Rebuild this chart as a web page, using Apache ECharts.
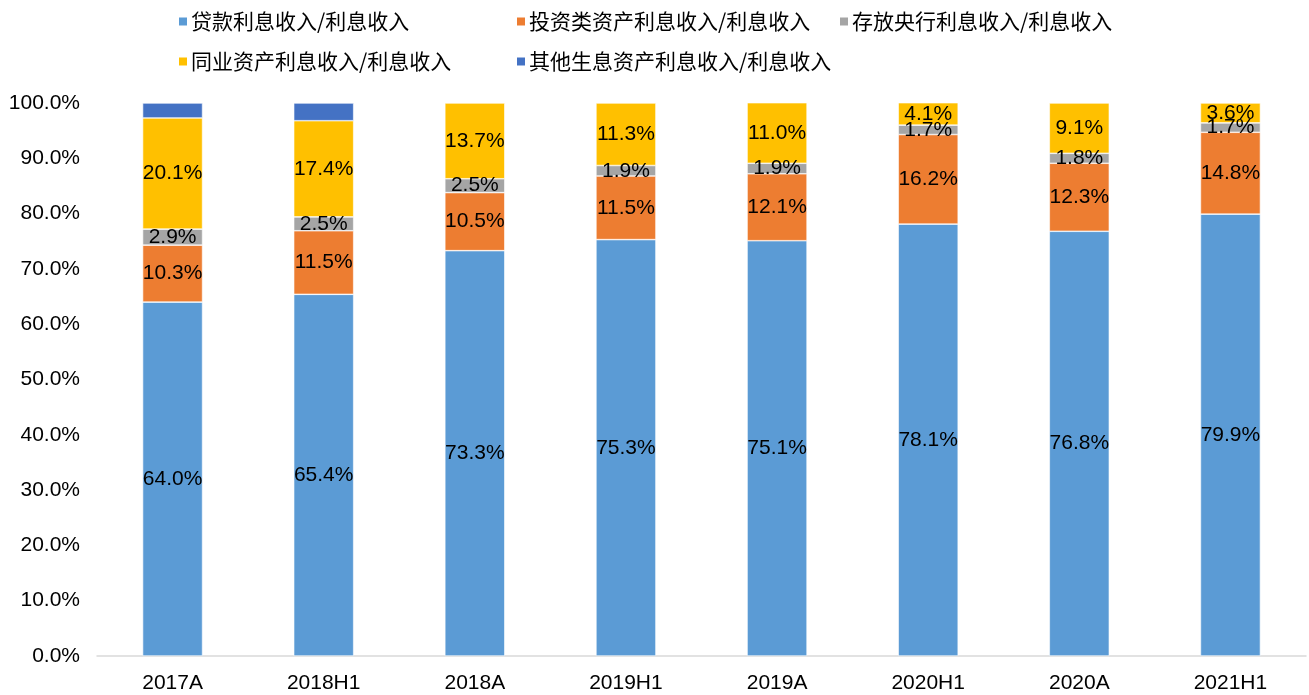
<!DOCTYPE html>
<html><head><meta charset="utf-8">
<script src="https://cdn.jsdelivr.net/npm/echarts@6/dist/echarts.min.js"></script>
<style>html,body{margin:0;padding:0;background:#fff}#c{width:1309px;height:695px}</style>
</head><body><div id="c"></div>
<script>
const categories = ['2017A','2018H1','2018A','2019H1','2019A','2020H1','2020A','2021H1'];
const seriesNames = ['贷款利息收入/利息收入','投资类资产利息收入/利息收入','存放央行利息收入/利息收入','同业资产利息收入/利息收入','其他生息资产利息收入/利息收入'];
const loans = [64.0, 65.4, 73.3, 75.3, 75.1, 78.1, 76.8, 79.9];
const investment = [10.3, 11.5, 10.5, 11.5, 12.1, 16.2, 12.3, 14.8];
const centralBank = [2.9, 2.5, 2.5, 1.9, 1.9, 1.7, 1.8, 1.7];
const interbank = [20.1, 17.4, 13.7, 11.3, 11.0, 4.1, 9.1, 3.6];
const other = [2.7, 3.2, null, null, null, null, null, null];
const yTicks = [0,10,20,30,40,50,60,70,80,90,100];
const colors = ['#5B9BD5','#ED7D31','#A5A5A5','#FFC000','#4472C4'];

const chart = echarts.init(document.getElementById('c'));
const lbl = {show:true, position:'inside', color:'#000', fontSize:21, fontFamily:'Liberation Sans, Arial, sans-serif', formatter:p=>p.value==null?'':p.value.toFixed(1)+'%'};
function mk(i, data, showLabel){
  return {name:seriesNames[i], type:'bar', stack:'s', data:data, barWidth:60,
    itemStyle:{color:colors[i], borderColor:'#fff', borderWidth:0.6},
    label: showLabel ? lbl : {show:false}, emphasis:{disabled:true}};
}
const legPos = [[172,6],[510,6],[833,6],[172,46],[510,46]];
const legends = seriesNames.map((n,i)=>({data:[n], left:legPos[i][0], top:legPos[i][1], icon:'rect', itemWidth:10, itemHeight:10, itemGap:0,
  textStyle:{fontSize:21, color:'#000', fontFamily:'Noto Sans CJK SC', padding:[0,0,0,-2]}}));
chart.setOption({
  animation:false,
  color:colors,
  legend: legends,
  grid:{left:97, right:3, top:103, bottom:39, containLabel:false},
  xAxis:{type:'category', data:categories, axisTick:{show:false},
    axisLine:{lineStyle:{color:'#d9d9d9', width:1.5}},
    axisLabel:{color:'#000', fontSize:21, fontFamily:'Liberation Sans, Arial, sans-serif', margin:17}},
  yAxis:{type:'value', min:0, max:100, interval:10, splitLine:{show:false},
    axisLine:{show:false}, axisTick:{show:false},
    axisLabel:{color:'#000', fontSize:21, fontFamily:'Liberation Sans, Arial, sans-serif', margin:17,
      formatter:v=>yTicks.includes(v)?v.toFixed(1)+'%':''}},
  series:[mk(0,loans,true), mk(1,investment,true), mk(2,centralBank,true), mk(3,interbank,true), mk(4,other,false)]
});
</script></body></html>
